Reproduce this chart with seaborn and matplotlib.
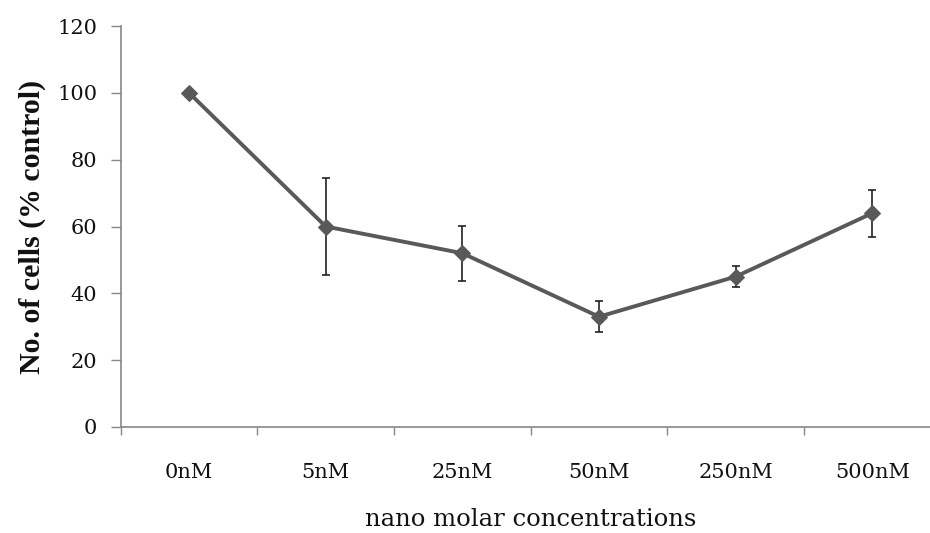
import numpy as np
import matplotlib
matplotlib.use('Agg')
import matplotlib.pyplot as plt
import seaborn as sns
import pandas as pd

sns.set_theme(style='white')
plt.rcParams['font.family'] = ['DejaVu Serif']

# dados
concentracoes = ['0nM', '5nM', '25nM', '50nM', '250nM', '500nM']
celulas = [100, 60, 52, 33, 45, 64]
erro = [0, 14.5, 8.2, 4.6, 3.1, 7.0]

df = pd.DataFrame({'pos': np.arange(len(concentracoes)), 'celulas': celulas})

fig = plt.figure(figsize=(9.3, 5.33), dpi=100)
ax = fig.add_axes([120.7 / 930, 106 / 533, 820 / 930, 401 / 533])

ax.errorbar(df['pos'], df['celulas'], yerr=erro, fmt='none', ecolor='#222222',
            elinewidth=1.2, capsize=3, capthick=1.2, zorder=2)
sns.lineplot(data=df, x='pos', y='celulas', ax=ax, color='#595959', linewidth=2.8,
             marker='D', markersize=8, markeredgecolor='#595959', zorder=3)

ax.set_xlim(-0.5, 5.5)
ax.set_ylim(0, 120)
ax.set_yticks(np.arange(0, 121, 20))
ax.set_xticks(np.arange(-0.5, 6, 1))
ax.set_xticklabels([])
ax.set_xticks(np.arange(6), minor=True)
ax.set_xticklabels(concentracoes, minor=True)

for s in ['top', 'right']:
    ax.spines[s].set_visible(False)
for s in ['left', 'bottom']:
    ax.spines[s].set_color('#888888')
    ax.spines[s].set_linewidth(1.2)

ax.tick_params(axis='y', which='major', direction='out', length=7, width=1, color='#888888',
               left=True, labelsize=15, pad=10, labelcolor='#111111')
ax.tick_params(axis='x', which='major', direction='out', length=6, width=1, color='#888888',
               bottom=True)
ax.tick_params(axis='x', which='minor', length=0, labelsize=15, pad=26, labelcolor='#111111')

ax.set_xlabel('nano molar concentrations', fontsize=17.5, labelpad=19, color='#111111')
ax.set_ylabel('No. of cells (% control)', fontsize=21.5, fontweight='bold', labelpad=8,
              color='#111111', family='Liberation Serif')

fig.savefig('out.png', dpi=100)
